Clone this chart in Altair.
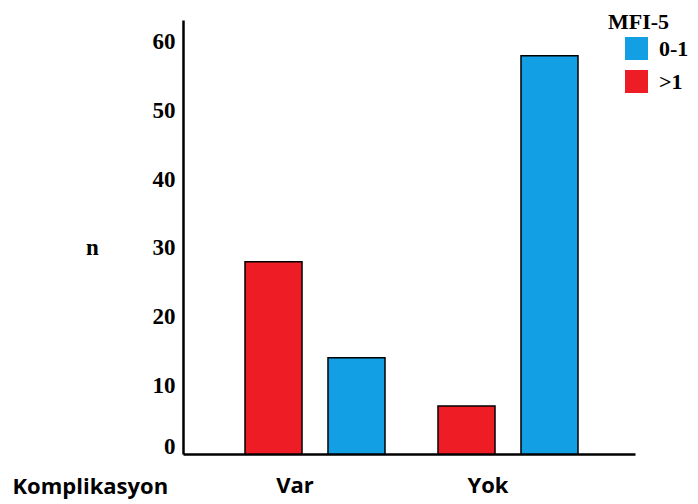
import altair as alt
import pandas as pd

groups = ["Var", "Var", "Yok", "Yok"]
mfi = [">1", "0-1", ">1", "0-1"]
counts = [28, 14, 7, 58]

legend_order = ["0-1", ">1"]
bar_order = [">1", "0-1"]
colors = ["#139fe3", "#ee1c25"]
y_ticks = [0, 10, 20, 30, 40, 50, 60]

df = pd.DataFrame({"Komplikasyon": groups, "MFI-5": mfi, "n": counts})

serif = "Liberation Serif"
sans = "Open Sans"

chart = (
    alt.Chart(df)
    .mark_bar(stroke="black", strokeWidth=1.5)
    .encode(
        x=alt.X(
            "Komplikasyon:N",
            sort=["Var", "Yok"],
            scale=alt.Scale(paddingInner=0.2746, paddingOuter=0.3083, align=0.521),
            axis=alt.Axis(
                title="Komplikasyon",
                titleFont=sans, titleFontSize=22, titleFontWeight="bold", titleColor="black",
                titleX=-171, titleY=39, titleAlign="left", titleBaseline="alphabetic",
                labelFont=sans, labelFontSize=22, labelFontWeight="bold", labelColor="black",
                labelAngle=0, labelOffset=-20, labelPadding=21,
                ticks=False, domainColor="black", domainWidth=2.5,
            ),
        ),
        xOffset=alt.XOffset(
            "MFI-5:N", sort=bar_order,
            scale=alt.Scale(paddingInner=0.313, paddingOuter=0),
        ),
        y=alt.Y(
            "n:Q",
            scale=alt.Scale(domain=[0, 63.2], nice=False),
            axis=alt.Axis(
                values=y_ticks, title="n",
                titleFont=serif, titleFontSize=23, titleFontWeight="bold", titleColor="black",
                titleAngle=0, titleX=-91, titleY=227, titleAlign="center", titleBaseline="middle",
                labelFont=serif, labelFontSize=23, labelFontWeight="bold", labelColor="black",
                labelOffset={"condition": {"test": "datum.value == 0", "value": -8}, "value": 0},
                labelPadding=8, ticks=False, grid=False,
                domainColor="black", domainWidth=2.5,
            ),
        ),
        color=alt.Color(
            "MFI-5:N",
            scale=alt.Scale(domain=legend_order, range=colors),
            legend=alt.Legend(
                orient="none", legendX=425, legendY=-8,
                titleFont=serif, titleFontSize=22, titleFontWeight="bold", titleColor="black",
                titlePadding=3,
                labelFont=serif, labelFontSize=22, labelFontWeight="bold", labelColor="black",
                labelOffset=11, symbolType="square", symbolSize=529, symbolStrokeWidth=0,
                symbolOffset=17, rowPadding=10,
            ),
        ),
    )
    .properties(
        width=452, height=434,
        autosize=alt.AutoSizeParams(type="none"),
        padding={"left": 175, "top": 12, "right": 55, "bottom": 50},
    )
    .configure_view(stroke=None)
)

chart.save("out.html", embed_options={"renderer": "svg", "actions": False})
